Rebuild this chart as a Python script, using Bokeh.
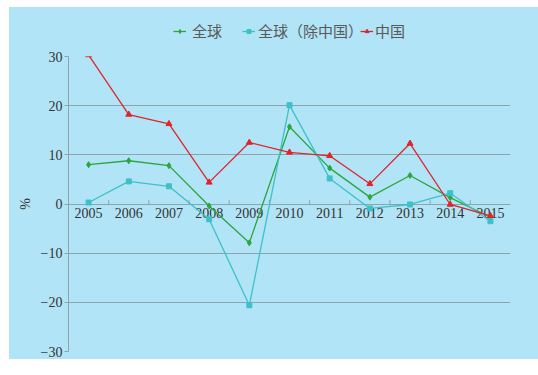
import numpy as np
from bokeh.plotting import figure
from bokeh.layouts import column
from bokeh.models import Range1d, FixedTicker, Legend, LegendItem, ColumnDataSource
from bokeh.core.properties import value
from bokeh.embed import file_html
from bokeh.resources import INLINE

years = ["2005", "2006", "2007", "2008", "2009", "2010", "2011", "2012", "2013", "2014", "2015"]
world = [8.0, 8.8, 7.8, -0.4, -7.9, 15.7, 7.3, 1.4, 5.8, 1.3, -2.7]
world_ex_china = [0.3, 4.6, 3.6, -3.1, -20.6, 20.1, 5.2, -0.9, -0.1, 2.2, -3.5]
china = [30.3, 18.2, 16.3, 4.4, 12.5, 10.5, 9.8, 4.1, 12.3, -0.1, -2.4]
y_ticks = [-30, -20, -10, 0, 10, 20, 30]
series_names = ["全球", "全球（除中国）", "中国"]

BG = "#b1e4f6"
GRID = "#8fa3ab"
SERIF = "Liberation Serif"
CJK = "Noto Sans CJK SC"

n = len(years)
xs = np.arange(n) + 0.5

# ---- legend strip (top); its ranges keep the series out of view, only the legend shows ----
top = figure(width=529, height=41, x_range=Range1d(0, n), y_range=Range1d(100, 101),
             output_backend="svg", toolbar_location=None,
             x_axis_location=None, y_axis_location=None,
             min_border_left=59, min_border_right=28, min_border_top=0, min_border_bottom=0)
top.background_fill_color = BG
top.border_fill_color = BG
top.outline_line_color = None
top.grid.visible = False

# ---- main chart ----
p = figure(width=529, height=311, x_range=Range1d(0, n), y_range=Range1d(-30, 30),
           output_backend="svg", toolbar_location=None, x_axis_location=None,
           min_border_left=59, min_border_right=28, min_border_top=8, min_border_bottom=8)
p.background_fill_color = BG
p.border_fill_color = BG
p.outline_line_color = None

p.xgrid.visible = False
p.ygrid.ticker = FixedTicker(ticks=y_ticks)
p.ygrid.grid_line_color = GRID
p.ygrid.grid_line_width = 1

yax = p.yaxis[0]
yax.ticker = FixedTicker(ticks=y_ticks)
yax.major_label_overrides = {t: (str(t).replace("-", "\u2212")) for t in y_ticks}
yax.major_label_text_font = SERIF
yax.major_label_text_font_size = "14px"
yax.major_label_text_color = "#333333"
yax.axis_line_color = GRID
yax.major_tick_line_color = GRID
yax.major_tick_out = 4
yax.major_tick_in = 0
yax.minor_tick_line_color = None
yax.major_label_standoff = 2
yax.axis_label = "%"
yax.axis_label_text_font = SERIF
yax.axis_label_text_font_size = "14px"
yax.axis_label_text_font_style = "normal"
yax.axis_label_text_color = "#333333"
yax.axis_label_standoff = 5

# x-axis category labels sitting on the zero line
src = ColumnDataSource(dict(x=xs, y=[0] * n, t=years))
p.text(x="x", y="y", text="t", source=src, text_font=value(SERIF), text_font_size="14px",
       text_color="#333333", text_align="center", text_baseline="top", y_offset=4)
bounds = np.arange(1, n)
p.segment(x0=bounds, x1=bounds, y0=[0] * len(bounds), y1=[0.8] * len(bounds),
          line_color=GRID, line_width=1)

colors = ["#2aa63c", "#3ec0c9", "#e0242c"]
markers = ["diamond", "square", "triangle"]
sizes = [6, 5, 6]
legend_x = [105, 174, 292]
standoffs = [6, 3, 2]
for name, ys, c, m, s, lx, so in zip(series_names, [world, world_ex_china, china], colors,
                                     markers, sizes, legend_x, standoffs):
    p.line(xs, ys, line_color=c, line_width=1.3)
    p.scatter(xs, ys, marker=m, size=s, fill_color=c, line_color=c)
    l1 = top.line(xs, ys, line_color=c, line_width=1.3)
    l2 = top.scatter(xs, ys, marker=m, size=s - 1, fill_color=c, line_color=c)
    lg = Legend(items=[LegendItem(label=name, renderers=[l1, l2])], orientation="horizontal",
                location=(lx, 7), label_text_font=CJK, label_text_font_size="15px",
                label_text_color="#595959", glyph_width=13, glyph_height=10,
                label_standoff=so, spacing=0, padding=0, margin=0,
                background_fill_alpha=0, border_line_alpha=0, label_height=20)
    top.add_layout(lg, "center")

layout = column(top, p, spacing=0)
layout.margin = (7, 0, 0, 9)
layout.styles = {"background-color": BG}
open("out.html", "w").write(file_html(layout, INLINE))
